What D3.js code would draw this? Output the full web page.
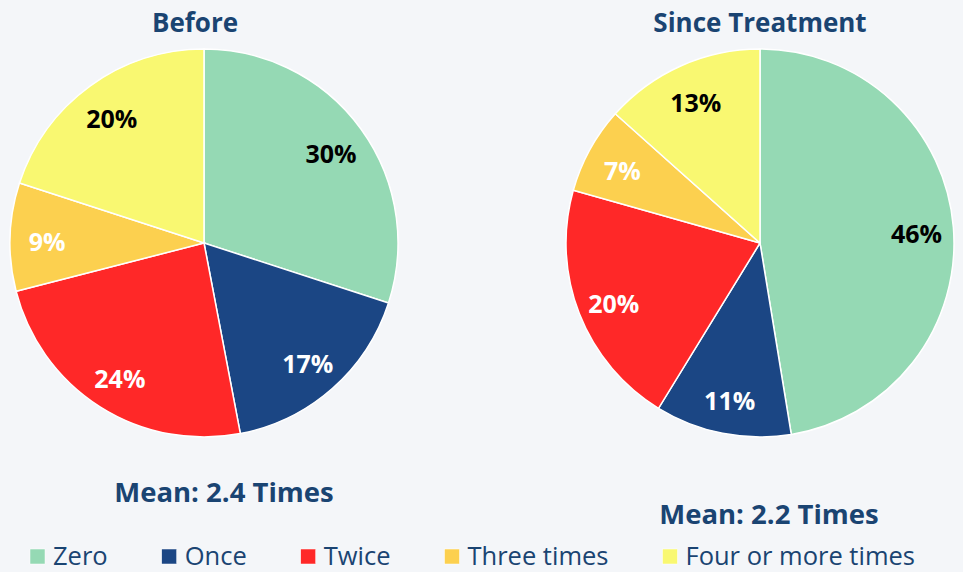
<!DOCTYPE html>
<html>
<head>
<meta charset="utf-8">
<script src="https://cdn.jsdelivr.net/npm/d3@7"></script>
<style>
    body { margin: 0; background: #f4f6f9; }
    svg { display: block; font-family: "Open Sans", sans-serif; }
</style>
</head>
<body>
<svg width="963" height="572"></svg>
<script>
// данные
const categories = ['Zero', 'Once', 'Twice', 'Three times', 'Four or more times'];
const colors = ['#95d9b4', '#1b4684', '#ff2828', '#fcd04f', '#f9f871'];
const labelColors = ['#000', '#fff', '#fff', '#fff', '#000'];
const valuesBefore = [30, 17, 24, 9, 20];
const valuesSince = [46, 11, 20, 7, 13];
const titles = ['Before', 'Since Treatment'];
const means = ['Mean: 2.4 Times', 'Mean: 2.2 Times'];

const svg = d3.select('svg');
const textColor = '#1a4472';
const radius = 194;
const labelRadius = 157;

const pie = d3.pie().sort(null).value(d => d);
const arc = d3.arc().innerRadius(0).outerRadius(radius);
const labelArc = d3.arc().innerRadius(labelRadius).outerRadius(labelRadius);

function drawPie(values, cx, cy, title, titleX, mean, meanX, meanY) {
    const g = svg.append('g').attr('transform', `translate(${cx}, ${cy})`);

    g.selectAll('path')
        .data(pie(values))
        .enter()
        .append('path')
        .attr('d', arc)
        .attr('fill', (d, i) => colors[i])
        .attr('stroke', '#fff')
        .attr('stroke-width', 1.5);

    g.selectAll('text.lbl')
        .data(pie(values))
        .enter()
        .append('text')
        .attr('class', 'lbl')
        .attr('transform', d => `translate(${labelArc.centroid(d)})`)
        .attr('text-anchor', 'middle')
        .attr('dy', '0.5em')
        .style('font-size', '25px')
        .style('font-weight', 'bold')
        .style('fill', (d, i) => labelColors[i])
        .text(d => d.data + '%');

    // заголовок
    svg.append('text')
        .attr('x', titleX)
        .attr('y', 32)
        .attr('text-anchor', 'middle')
        .style('font-size', '26px')
        .style('font-weight', 'bold')
        .style('fill', textColor)
        .text(title);

    // среднее
    svg.append('text')
        .attr('x', meanX)
        .attr('y', meanY)
        .attr('text-anchor', 'middle')
        .style('font-size', '27.5px')
        .style('font-weight', 'bold')
        .style('fill', textColor)
        .text(mean);
}

drawPie(valuesBefore, 204, 243, titles[0], 195, means[0], 224, 502);
drawPie(valuesSince, 760, 243, titles[1], 760, means[1], 769, 524);

// легенда
const legend = svg.append('g').attr('transform', 'translate(30, 565)');
let offsetX = 0;
categories.forEach((c, i) => {
    const item = legend.append('g').attr('transform', `translate(${offsetX}, 0)`);
    item.append('rect')
        .attr('x', 0)
        .attr('y', -16)
        .attr('width', 15)
        .attr('height', 15)
        .attr('fill', colors[i])
        .attr('stroke', '#fff')
        .attr('stroke-width', 0.5);
    const t = item.append('text')
        .attr('x', 23)
        .attr('y', 0)
        .style('font-size', '25.5px')
        .style('fill', textColor)
        .text(c);
    offsetX += 23 + t.node().getComputedTextLength() + 54;
});
</script>
</body>
</html>
